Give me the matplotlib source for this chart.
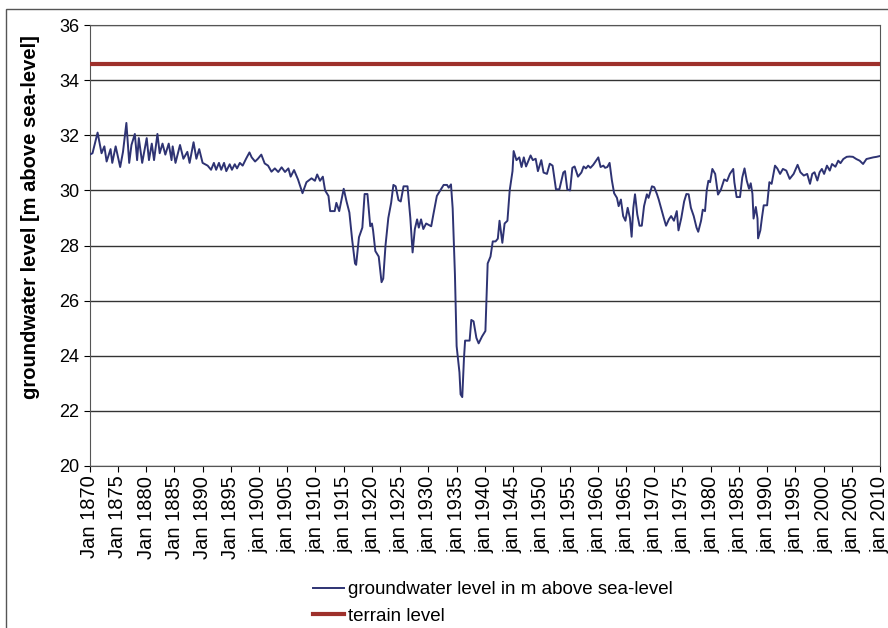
import matplotlib
matplotlib.use('Agg')
import matplotlib.pyplot as plt
from matplotlib.patches import Rectangle

plt.rcParams['font.family'] = ['Liberation Sans', 'DejaVu Sans']

# groundwater level in m above sea-level
years = [1870.0, 1870.5, 1871.4, 1872.1, 1872.6, 1873.0, 1873.7, 1874.0, 1874.6, 1875.4,
         1875.9, 1876.5, 1877.0, 1877.4, 1878.0, 1878.4, 1878.7, 1879.3, 1880.1, 1880.5,
         1881.0, 1881.4, 1882.0, 1882.4, 1882.9, 1883.4, 1884.0, 1884.5, 1884.7, 1885.2,
         1886.0, 1886.6, 1887.3, 1887.7, 1888.4, 1888.9, 1889.4, 1890.0, 1890.9, 1891.5,
         1892.0, 1892.4, 1892.9, 1893.3, 1893.8, 1894.2, 1894.8, 1895.2, 1895.7, 1896.1,
         1896.6, 1897.1, 1897.7, 1898.3, 1898.7, 1899.3, 1899.8, 1900.4, 1901.0, 1901.6,
         1902.2, 1902.8, 1903.4, 1904.0, 1904.6, 1905.2, 1905.6, 1906.2, 1906.9, 1907.7,
         1908.4, 1909.3, 1909.9, 1910.3, 1910.8, 1911.3, 1911.7, 1912.3, 1912.6, 1913.4,
         1913.7, 1914.2, 1915.0, 1915.5, 1916.0, 1916.5, 1917.0, 1917.2, 1917.7, 1918.3,
         1918.7, 1919.2, 1919.7, 1920.0, 1920.2, 1920.6, 1921.2, 1921.7, 1922.0, 1922.4,
         1922.9, 1923.4, 1923.8, 1924.2, 1924.7, 1925.1, 1925.6, 1926.3, 1926.8, 1927.2,
         1927.6, 1928.0, 1928.3, 1928.7, 1929.1, 1929.6, 1930.5, 1930.9, 1931.5, 1932.1,
         1932.7, 1933.3, 1933.6, 1934.0, 1934.3, 1934.7, 1935.0, 1935.5, 1935.7, 1936.0,
         1936.3, 1936.5, 1937.3, 1937.6, 1938.0, 1938.5, 1938.9, 1939.5, 1940.1, 1940.5,
         1941.0, 1941.4, 1941.9, 1942.3, 1942.6, 1943.1, 1943.5, 1944.0, 1944.4, 1944.9,
         1945.1, 1945.6, 1946.1, 1946.5, 1946.9, 1947.3, 1948.1, 1948.5, 1949.0, 1949.4,
         1950.0, 1950.4, 1951.0, 1951.5, 1952.0, 1952.6, 1953.2, 1953.9, 1954.2, 1954.6,
         1955.1, 1955.5, 1955.9, 1956.5, 1957.1, 1957.5, 1957.9, 1958.3, 1958.7, 1959.2,
         1959.6, 1960.1, 1960.5, 1961.0, 1961.3, 1961.7, 1962.1, 1962.5, 1962.9, 1963.4,
         1963.7, 1964.1, 1964.5, 1964.9, 1965.3, 1965.7, 1966.0, 1966.3, 1966.6, 1967.0,
         1967.4, 1967.8, 1968.2, 1968.7, 1969.0, 1969.6, 1970.0, 1970.5, 1970.8, 1971.2,
         1971.7, 1972.1, 1972.6, 1973.0, 1973.5, 1974.0, 1974.3, 1974.8, 1975.3, 1975.7,
         1976.1, 1976.5, 1977.0, 1977.5, 1977.8, 1978.3, 1978.6, 1979.0, 1979.3, 1979.6,
         1979.9, 1980.3, 1980.8, 1981.3, 1981.8, 1982.4, 1982.9, 1983.4, 1984.0, 1984.2,
         1984.6, 1985.2, 1985.6, 1986.0, 1986.4, 1986.8, 1987.1, 1987.4, 1987.6, 1988.0,
         1988.3, 1988.4, 1988.8, 1989.1, 1989.4, 1990.0, 1990.4, 1990.8, 1991.4, 1991.8,
         1992.3, 1992.8, 1993.4, 1994.0, 1994.7, 1995.4, 1995.9, 1996.5, 1997.1, 1997.6,
         1998.0, 1998.4, 1998.9, 1999.3, 1999.7, 2000.1, 2000.6, 2001.1, 2001.5, 2002.1,
         2002.6, 2003.0, 2003.5, 2004.1, 2004.6, 2005.2, 2005.8, 2006.4, 2007.0, 2007.6,
         2008.2, 2008.8, 2009.4, 2010.0]
levels = [31.30, 31.35, 32.10, 31.35, 31.60, 31.05, 31.50, 31.00, 31.60, 30.85,
          31.40, 32.45, 31.00, 31.65, 32.05, 31.10, 31.90, 31.00, 31.90, 31.10,
          31.70, 31.10, 32.05, 31.35, 31.70, 31.30, 31.70, 31.10, 31.60, 31.00,
          31.65, 31.15, 31.40, 31.00, 31.75, 31.15, 31.50, 31.00, 30.90, 30.75,
          31.00, 30.75, 31.00, 30.75, 31.00, 30.70, 30.95, 30.75, 30.95, 30.80,
          31.00, 30.90, 31.15, 31.38, 31.20, 31.05, 31.15, 31.30, 30.98, 30.90,
          30.68, 30.80, 30.67, 30.84, 30.67, 30.80, 30.50, 30.74, 30.40, 29.90,
          30.30, 30.44, 30.35, 30.58, 30.35, 30.50, 30.00, 29.80, 29.25, 29.25,
          29.55, 29.25, 30.06, 29.60, 29.20, 28.20, 27.35, 27.30, 28.30, 28.65,
          29.87, 29.87, 28.70, 28.80, 28.55, 27.80, 27.60, 26.67, 26.80, 28.00,
          29.00, 29.55, 30.20, 30.15, 29.65, 29.60, 30.15, 30.15, 29.00, 27.75,
          28.60, 28.95, 28.65, 28.95, 28.60, 28.80, 28.70, 29.15, 29.80, 30.00,
          30.20, 30.20, 30.10, 30.22, 29.35, 26.95, 24.35, 23.40, 22.60, 22.50,
          23.90, 24.55, 24.55, 25.30, 25.25, 24.65, 24.45, 24.70, 24.90, 27.35,
          27.60, 28.15, 28.15, 28.25, 28.90, 28.10, 28.80, 28.90, 30.00, 30.70,
          31.43, 31.10, 31.20, 30.85, 31.20, 30.87, 31.27, 31.10, 31.15, 30.70,
          31.10, 30.65, 30.60, 30.97, 30.90, 30.04, 30.04, 30.65, 30.70, 30.04,
          30.00, 30.82, 30.87, 30.50, 30.65, 30.87, 30.80, 30.90, 30.82, 30.93,
          31.05, 31.20, 30.85, 30.90, 30.82, 30.85, 31.00, 30.37, 29.90, 29.73,
          29.43, 29.67, 29.07, 28.90, 29.37, 29.00, 28.32, 29.37, 29.86, 29.13,
          28.72, 28.72, 29.43, 29.86, 29.73, 30.15, 30.12, 29.86, 29.67, 29.37,
          29.00, 28.72, 28.95, 29.07, 28.90, 29.25, 28.55, 29.00, 29.60, 29.87,
          29.86, 29.37, 29.07, 28.65, 28.50, 28.90, 29.30, 29.25, 30.00, 30.35,
          30.30, 30.78, 30.60, 29.85, 30.02, 30.40, 30.34, 30.60, 30.78, 30.30,
          29.76, 29.76, 30.47, 30.80, 30.35, 30.06, 30.26, 29.88, 28.98, 29.40,
          28.98, 28.26, 28.55, 29.03, 29.46, 29.46, 30.30, 30.24, 30.90, 30.80,
          30.60, 30.78, 30.72, 30.42, 30.60, 30.93, 30.66, 30.54, 30.60, 30.24,
          30.60, 30.66, 30.36, 30.66, 30.78, 30.60, 30.90, 30.72, 30.96, 30.86,
          31.08, 30.99, 31.14, 31.22, 31.23, 31.22, 31.14, 31.08, 30.96, 31.14,
          31.17, 31.20, 31.22, 31.25]

terrain_level = 34.6
tick_years = list(range(1870, 2011, 5))
tick_labels = [('Jan %d' if y < 1900 else 'jan %d') % y for y in tick_years]
y_ticks = list(range(20, 37, 2))

fig = plt.figure(figsize=(8.88, 6.28), dpi=100)
ax = fig.add_axes([0.101, 0.258, 0.89, 0.702])

# outer frame of the scanned chart
fig.patches.append(Rectangle((0.007, -0.05), 1.1, 1.035, transform=fig.transFigure,
                             fill=False, edgecolor='#555555', linewidth=1.0))

ax.plot(years, levels, color='#2e3373', linewidth=1.4,
        label='groundwater level in m above sea-level', zorder=3)
ax.plot([tick_years[0], tick_years[-1]], [terrain_level, terrain_level],
        color='#9e302b', linewidth=3, label='terrain level', zorder=3)

ax.set_xlim(1870, 2010)
ax.set_ylim(20, 36)
ax.set_yticks(y_ticks)
ax.set_xticks(tick_years)
ax.set_xticklabels(tick_labels, rotation=90, fontsize=14.5)
ax.tick_params(axis='y', labelsize=13, length=4, width=0.8)
ax.tick_params(axis='x', length=4, width=0.8, pad=3)
ax.yaxis.grid(True, color='#333333', linewidth=1.0)
ax.set_axisbelow(True)
for s in ax.spines.values():
    s.set_color('#555555')
    s.set_linewidth(0.8)

ax.set_ylabel('groundwater level [m above sea-level]', fontsize=14.5,
              fontweight='bold')
ax.yaxis.set_label_coords(-0.063, 0.565)

fig.legend(loc='lower left', bbox_to_anchor=(0.333, -0.022), frameon=False,
           fontsize=13.5, handlelength=1.7, handletextpad=0.2, labelspacing=0.5)

plt.savefig('out.png', dpi=100)
